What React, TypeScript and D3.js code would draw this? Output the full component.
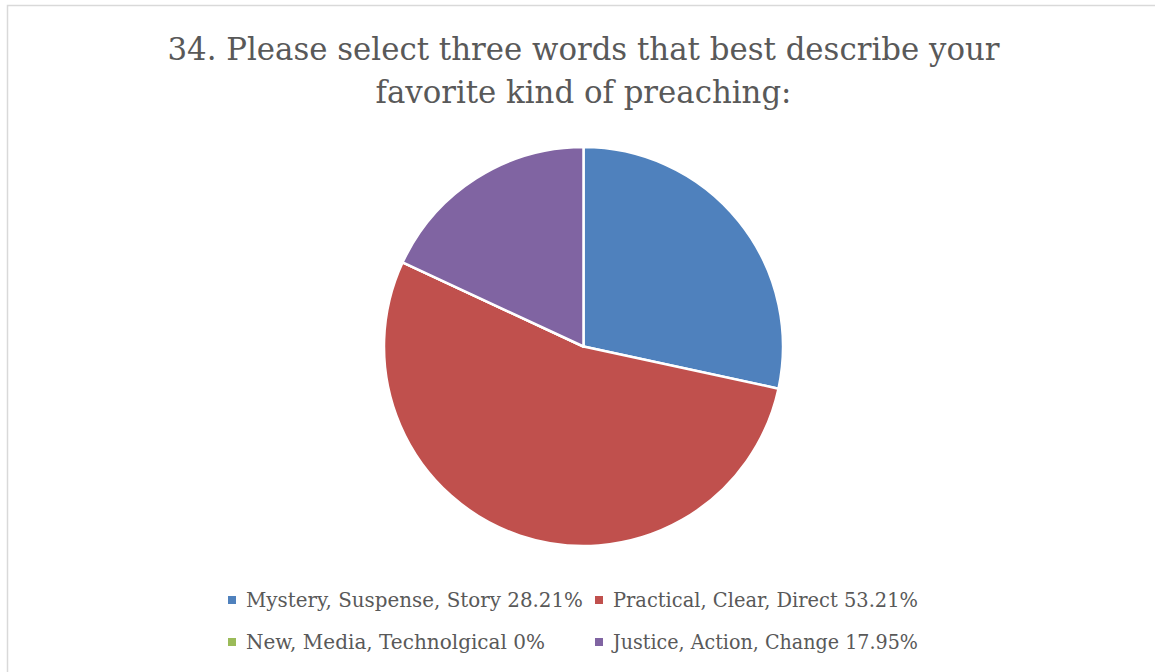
import React from "react";
import * as d3 from "d3";

const titleLines = [
  "34. Please select three words that best describe your",
  "favorite kind of preaching:",
];
const categories = [
  "Mystery, Suspense, Story",
  "Practical, Clear, Direct",
  "New, Media, Technolgical",
  "Justice, Action, Change",
];
const values = [28.21, 53.21, 0, 17.95];
const valueLabels = ["28.21%", "53.21%", "0%", "17.95%"];
const colors = ["#4F81BD", "#C0504D", "#9BBB59", "#8064A2"];

const W = 1155;
const H = 672;

export default function App() {
  const cx = 583.5;
  const cy = 346.5;
  const r = 199.5;
  const pie = d3
    .pie<number>()
    .sort(null)
    .value((d) => d)(values);
  const arc = d3.arc<d3.PieArcDatum<number>>().innerRadius(0).outerRadius(r);

  const titleY = [60, 103];
  const titleWidths = [832, 416];

  const legendPos = [
    { x: 232, y: 607, w: 337 },
    { x: 599, y: 607, w: 305 },
    { x: 232, y: 649, w: 299 },
    { x: 599, y: 649, w: 305 },
  ];

  const font = "'DejaVu Serif', 'Liberation Serif', serif";

  return (
    <svg
      width={W}
      height={H}
      style={{ position: "fixed", left: 0, top: 0, background: "#fff" }}
    >
      <rect
        x={7.5}
        y={5.5}
        width={W + 20}
        height={H + 20}
        fill="#fff"
        stroke="#d9d9d9"
        strokeWidth={1.5}
      />
      {titleLines.map((t, i) => (
        <text
          key={i}
          x={cx}
          y={titleY[i]}
          textAnchor="middle"
          fontFamily={font}
          fontSize={31}
          fill="#595959"
          textLength={titleWidths[i]}
          lengthAdjust="spacingAndGlyphs"
        >
          {t}
        </text>
      ))}
      <g transform={`translate(${cx},${cy})`}>
        {pie.map((d, i) => (
          <path
            key={i}
            d={arc(d) || ""}
            fill={colors[i]}
            stroke="#fff"
            strokeWidth={2.5}
            strokeLinejoin="round"
          />
        ))}
      </g>
      {categories.map((c, i) => {
        const p = legendPos[i];
        return (
          <g key={i}>
            <rect x={p.x - 4} y={p.y - 11} width={8} height={8} fill={colors[i]} />
            <text
              x={p.x + 14}
              y={p.y}
              fontFamily={font}
              fontSize={20.5}
              fill="#595959"
              textLength={p.w}
              lengthAdjust="spacingAndGlyphs"
            >
              {`${c} ${valueLabels[i]}`}
            </text>
          </g>
        );
      })}
    </svg>
  );
}
